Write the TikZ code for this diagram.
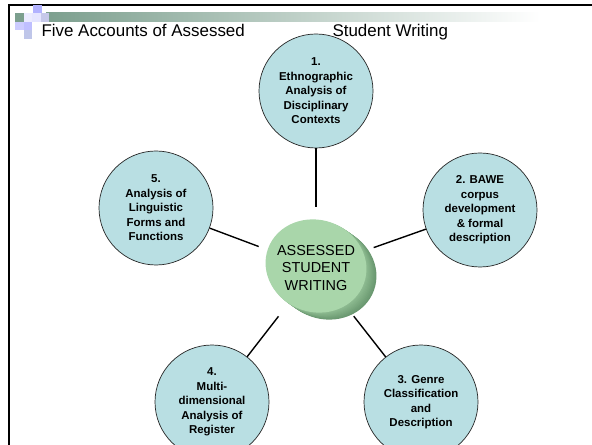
\documentclass[tikz,border=0pt]{standalone}
\usepackage{fontspec}
\setmainfont{Liberation Sans}
\definecolor{topic}{HTML}{B9DFE3}
\definecolor{hub}{HTML}{A9D6AA}
\definecolor{hubside}{HTML}{6A9870}
\definecolor{barleft}{HTML}{7C9F8E}
\tikzset{
  account/.style={circle, draw=black!85, line width=0.7bp, fill=topic, minimum size=114bp,
    align=center, font=\bfseries\fontsize{11.5}{14.5}\selectfont, inner sep=0pt},
  hubtext/.style={circle, minimum size=122bp, align=center,
    font=\fontsize{14.5}{17.5}\selectfont, inner sep=0pt},
  tile/.style={minimum size=8.5bp, inner sep=0pt},
  link/.style={draw=black, line width=1.4bp}
}
\begin{document}
\begin{tikzpicture}[x=1bp,y=-1bp]
\useasboundingbox (0,0) rectangle (592,445);
% slide frame and title bar
\fill[white] (0,0) rectangle (592,445);
\draw[black, line width=1.8bp] (9,445) -- (9,5) -- (592,5);
\shade[left color=barleft, right color=white] (46,13) rectangle (540,21.5);
\node[tile, fill=blue!30] (t1) at (37.5,9.5) {};
\node[tile, fill=barleft] (t2) at (19.5,17.5) {};
\node[tile, fill=blue!8] (t3) at (28,17.5) {};
\node[tile, fill=blue!10] (t4) at (36.5,17.5) {};
\node[tile, fill=cyan!25!blue!22] (t5) at (45,17.5) {};
\node[tile, fill=blue!20] (t6) at (19.5,26) {};
\node[tile, fill=blue!25] (t7) at (28,26) {};
\node[tile, fill=cyan!35!blue!25] (t8) at (28,34.5) {};
\node[anchor=base west, font=\fontsize{17}{19}\selectfont] (title1) at (38,37) {Five Accounts of Assessed};
\node[anchor=base west, font=\fontsize{17}{19}\selectfont] (title2) at (329,37) {Student Writing};

% outer circles
\node[account] (a1) at (316,91) {1.\\Ethnographic\\Analysis of\\Disciplinary\\Contexts};
\node[account] (a2) at (480,210) {2. BAWE\\corpus\\development\\\& formal\\description};
\node[account] (a3) at (421,402) {3. Genre\\Classification\\and\\Description};
\node[account] (a4) at (212,402) {4.\\Multi-\\dimensional\\Analysis of\\Register};
\node[account] (a5) at (156,208) {5.\\Analysis of\\Linguistic\\Forms and\\Functions};

% hub disc: side first, then face
\foreach \i in {10,9,...,1}
  \fill[hubside!\the\numexpr 40+\i*6\relax!hub] (316+\i,266+0.7*\i) circle[x radius=51bp, y radius=46bp, rotate=-20];
\fill[hub] (316,266) circle[x radius=51bp, y radius=46bp, rotate=-20];
\node[hubtext] (hub) at (316,268) {ASSESSED\\STUDENT\\WRITING};

\path[link]
(a1) edge (hub)
(a2) edge (hub)
(a3) edge (hub)
(a4) edge (hub)
(a5) edge (hub);
\end{tikzpicture}
\end{document}
